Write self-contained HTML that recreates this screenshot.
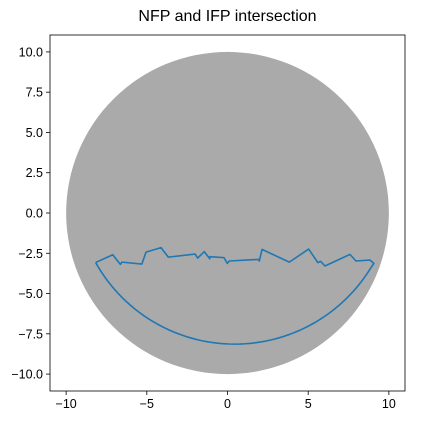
<!DOCTYPE html>
<html><head><meta charset="utf-8"><style>
body{margin:0;background:#fff}
svg{display:block;font-family:"Liberation Sans",sans-serif}
</style></head><body>
<svg id="chart" width="428" height="424"></svg>
<script>
const boundaryX=[-8.16,-7.11,-6.64,-6.55,-5.31,-5.05,-4.12,-3.67,-2.01,-1.85,-1.44,-1.10,-1.08,-0.22,-0.01,0.11,1.91,1.97,2.14,3.83,5.03,5.60,5.77,6.04,7.59,7.96,8.82,9.07];
const boundaryY=[-3.07,-2.59,-3.19,-3.05,-3.17,-2.43,-2.15,-2.74,-2.55,-2.80,-2.40,-2.84,-2.71,-2.77,-3.13,-2.98,-2.88,-2.98,-2.26,-3.05,-2.24,-3.08,-3.00,-3.29,-2.57,-2.98,-2.92,-3.13];
const arcCenter=[0.45,1.73];
const arcRadius=[9.87];
const arcAngles=[-29.4,-150.9];
const discRadius=[10];
const xTicks=[-10,-5,0,5,10];
const yTicks=[10.0,7.5,5.0,2.5,0.0,-2.5,-5.0,-7.5,-10.0];

const NS="http://www.w3.org/2000/svg";
const svg=document.getElementById('chart');
const L=50,R=405,T=35,B=391,xmin=-11,xmax=11,ymin=-11.05,ymax=11.05;
const sx=v=>L+(v-xmin)/(xmax-xmin)*(R-L);
const sy=v=>B-(v-ymin)/(ymax-ymin)*(B-T);
function mk(tag,attrs){const e=document.createElementNS(NS,tag);for(const k in attrs)e.setAttribute(k,attrs[k]);svg.appendChild(e);return e;}

const disc=mk('ellipse',{cx:sx(0),cy:sy(0),rx:sx(discRadius[0])-sx(0),ry:sy(0)-sy(discRadius[0]),fill:'#aaaaaa'});



let pts=boundaryX.map((x,i)=>sx(x)+','+sy(boundaryY[i]));
const a0=arcAngles[0]*Math.PI/180,a1=arcAngles[1]*Math.PI/180;
for(let k=1;k<=60;k++){const a=a0+(a1-a0)*k/60;pts.push(sx(arcCenter[0]+arcRadius[0]*Math.cos(a))+','+sy(arcCenter[1]+arcRadius[0]*Math.sin(a)));}
const line=mk('polyline',{points:pts.join(' '),fill:'none',stroke:'#1f77b4','stroke-width':1.6,'stroke-linejoin':'round'});



const frame=mk('rect',{x:L,y:T,width:R-L,height:B-T,fill:'none',stroke:'#000','stroke-width':0.8});



xTicks.forEach(v=>{
  const t=mk('line',{x1:sx(v),x2:sx(v),y1:B,y2:B+4,stroke:'#000','stroke-width':0.8});
  
  
  const lb=mk('text',{x:sx(v),y:B+17,'font-size':12.5,'text-anchor':'middle',fill:'#000'});
  lb.textContent=v<0?'\u2212'+Math.abs(v):String(v);
  
  
});
yTicks.forEach(v=>{
  const t=mk('line',{x1:L-4,x2:L,y1:sy(v),y2:sy(v),stroke:'#000','stroke-width':0.8});
  
  
  const lb=mk('text',{x:L-7,y:sy(v)+4.5,'font-size':12.5,'text-anchor':'end',fill:'#000'});
  lb.textContent=v<0?'\u2212'+Math.abs(v).toFixed(1):v.toFixed(1);
  
  
});
const title=mk('text',{x:(L+R)/2,y:21,'font-size':16,'text-anchor':'middle',fill:'#000'});
title.textContent='NFP and IFP intersection';


</script>
</body></html>
